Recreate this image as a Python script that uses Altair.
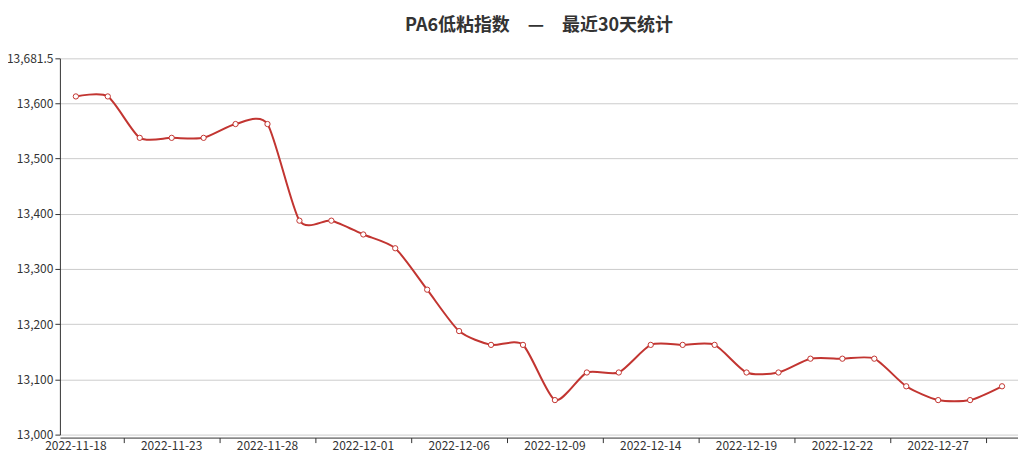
import altair as alt
import pandas as pd

dates = ["2022-11-18", "2022-11-21", "2022-11-22", "2022-11-23", "2022-11-24", "2022-11-25",
         "2022-11-28", "2022-11-29", "2022-11-30", "2022-12-01", "2022-12-02", "2022-12-05",
         "2022-12-06", "2022-12-07", "2022-12-08", "2022-12-09", "2022-12-12", "2022-12-13",
         "2022-12-14", "2022-12-15", "2022-12-16", "2022-12-19", "2022-12-20", "2022-12-21",
         "2022-12-22", "2022-12-23", "2022-12-26", "2022-12-27", "2022-12-28", "2022-12-29"]
values = [13612.5, 13612.5, 13537.5, 13537.5, 13537.5, 13562.5,
          13562.5, 13387.5, 13387.5, 13362.5, 13337.5, 13262.5,
          13187.5, 13162.5, 13162.5, 13062.5, 13112.5, 13112.5,
          13162.5, 13162.5, 13162.5, 13112.5, 13112.5, 13137.5,
          13137.5, 13137.5, 13087.5, 13062.5, 13062.5, 13087.5]
y_ticks = [13000, 13100, 13200, 13300, 13400, 13500, 13600, 13681.5]
title_text = "PA6低粘指数　—　最近30天统计"

df = pd.DataFrame({"date": dates, "value": values})

RED = "#c23531"
FONT = "Noto Sans CJK SC"

label_dates = dates[0::3]
tick_dates = dates[2::3]

xscale = alt.Scale(type="band", paddingInner=0, paddingOuter=0)
yscale = alt.Scale(domain=[13000, 13681.5], nice=False, zero=False)

y_axis = alt.Axis(values=y_ticks, format=",.1~f", title=None, grid=True,
                  gridColor="#cccccc", domainColor="#333333", tickColor="#333333",
                  tickSize=5, labelPadding=2, labelColor="#333333",
                  labelFontSize=12, labelFont=FONT)

line = alt.Chart(df).mark_line(color=RED, strokeWidth=2, interpolate="cardinal", tension=0.3).encode(
    x=alt.X("date:N", sort=None, scale=xscale,
            axis=alt.Axis(values=label_dates, labelAngle=0, ticks=False, grid=False,
                          domainColor="#333333", title=None, offset=3, orient="bottom",
                          labelColor="#333333", labelFontSize=12, labelFont=FONT,
                          labelPadding=3)),
    y=alt.Y("value:Q", scale=yscale, axis=y_axis),
)

points = alt.Chart(df).mark_point(shape="circle", filled=True, fill="white", stroke=RED,
                                  strokeWidth=1, size=28, opacity=1).encode(
    x=alt.X("date:N", sort=None, scale=xscale,
            axis=alt.Axis(values=tick_dates, bandPosition=0, labels=False, ticks=True,
                          tickSize=5, tickColor="#333333", domain=False, grid=False,
                          title=None, offset=3, orient="bottom")),
    y=alt.Y("value:Q", scale=yscale, axis=None),
)

chart = alt.layer(line, points).resolve_axis(x="independent", y="independent").properties(
    width=960, height=377,
    autosize=alt.AutoSizeParams(type="none"),
    padding={"left": 52, "top": 50, "right": 0, "bottom": 18},
    title=alt.TitleParams(title_text, anchor="middle", frame="group", offset=17,
                          font=FONT, fontSize=18, fontWeight="bold", color="#333333"),
    background="white",
).configure_view(stroke=None)

chart.save("out.html", embed_options={"renderer": "svg", "actions": False})
